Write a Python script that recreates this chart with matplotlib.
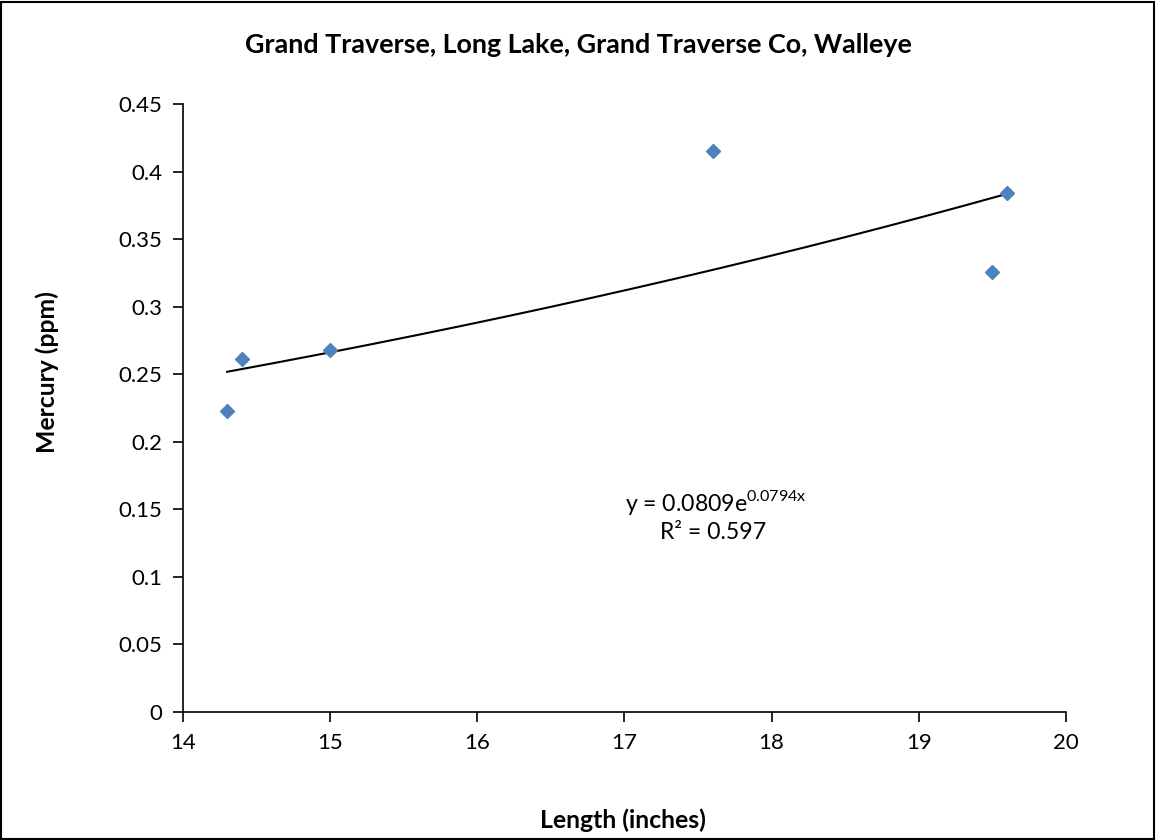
import numpy as np
import matplotlib
matplotlib.use("Agg")
import matplotlib.pyplot as plt
from matplotlib.patches import Rectangle

plt.rcParams['font.family'] = ['Lato', 'DejaVu Sans']

length_in = [14.3, 14.4, 15.0, 17.6, 19.5, 19.6]
mercury_ppm = [0.223, 0.261, 0.268, 0.415, 0.326, 0.384]
fit_a = 0.0809
fit_b = 0.0794
r_squared = 0.597
title = "Grand Traverse, Long Lake, Grand Traverse Co, Walleye"
x_ticks = [14, 15, 16, 17, 18, 19, 20]
y_ticks = [0, 0.05, 0.1, 0.15, 0.2, 0.25, 0.3, 0.35, 0.4, 0.45]
y_tick_labels = ["0", "0.05", "0.1", "0.15", "0.2", "0.25", "0.3", "0.35", "0.4", "0.45"]

fig = plt.figure(figsize=(11.56, 8.4), dpi=100)
ax = fig.add_axes([0.1583, 0.1524, 0.7638, 0.7238])

ax.plot(length_in, mercury_ppm, linestyle='none', marker='D', markersize=7,
        color='#4F81BD', markeredgecolor='#4F81BD', zorder=3)

xf = np.linspace(min(length_in), max(length_in), 200)
ax.plot(xf, fit_a * np.exp(fit_b * xf), color='black', linewidth=1.5, zorder=2)

ax.set_xlim(14, 20)
ax.set_ylim(0, 0.45)
ax.set_xticks(x_ticks)
ax.set_yticks(y_ticks)
ax.set_yticklabels(y_tick_labels)
ax.tick_params(axis='both', labelsize=16, direction='out', length=7, width=1.2, pad=8)
for s in ['top', 'right']:
    ax.spines[s].set_visible(False)
for s in ['left', 'bottom']:
    ax.spines[s].set_linewidth(1.2)

ax.text(17.62, 0.155, r"y = 0.0809e$^{\mathregular{0.0794x}}$", fontsize=16.6,
        ha='center', va='center')
ax.text(17.6, 0.133, f"R² = {r_squared}", fontsize=16.6, ha='center', va='center')

fig.text(0.5, 0.946, title, fontsize=19.4, fontweight='bold', ha='center', va='center')
fig.text(0.539, 0.024, "Length (inches)", fontsize=17.8, fontweight='bold', ha='center', va='center')
fig.text(0.041, 0.557, "Mercury (ppm)", fontsize=17.8, fontweight='bold', ha='center', va='center',
         rotation=90)

fig.patches.append(Rectangle((0.001, 0.001), 0.997, 0.997, transform=fig.transFigure,
                             fill=False, edgecolor='black', linewidth=1.5))

fig.savefig("out.png", dpi=100)
